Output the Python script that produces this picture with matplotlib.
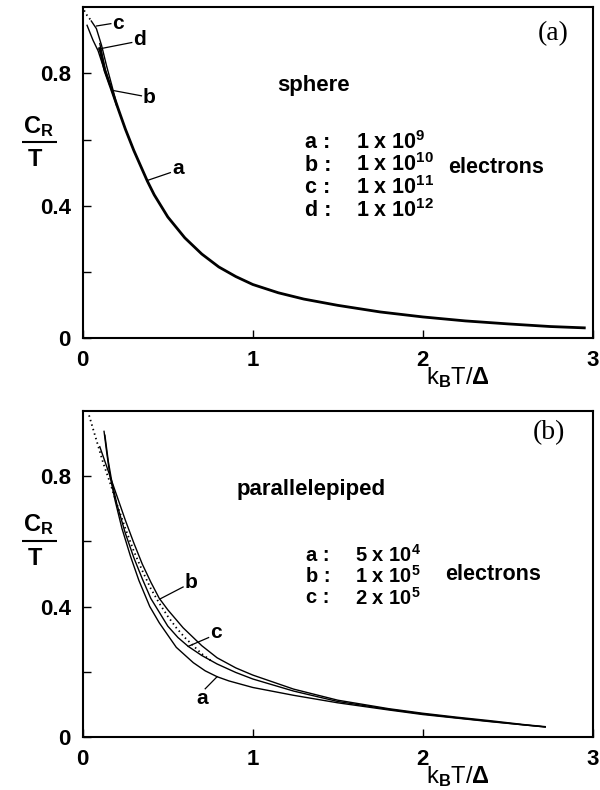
import matplotlib
matplotlib.use("Agg")
import matplotlib.pyplot as plt

plt.rcParams['font.family'] = ['Liberation Sans', 'DejaVu Sans']
plt.rcParams['font.weight'] = 'bold'
plt.rcParams['mathtext.fontset'] = 'custom'
plt.rcParams['mathtext.rm'] = 'Liberation Sans:bold'
plt.rcParams['mathtext.it'] = 'Liberation Sans:bold'
plt.rcParams['mathtext.bf'] = 'Liberation Sans:bold'
plt.rcParams['mathtext.sf'] = 'Liberation Sans:bold'

# ---------------- data: panel (a) sphere ----------------
sph_a_x = [0.10, 0.13, 0.169, 0.21, 0.25, 0.30, 0.38, 0.42, 0.50, 0.60, 0.70, 0.80, 0.90,
           1.00, 1.15, 1.30, 1.50, 1.75, 2.00, 2.25, 2.50, 2.75, 2.95]
sph_a_y = [0.875, 0.808, 0.751, 0.69, 0.632, 0.567, 0.474, 0.433, 0.366, 0.303, 0.254, 0.215,
           0.186, 0.162, 0.137, 0.118, 0.099, 0.079, 0.064, 0.052, 0.043, 0.035, 0.031]
sph_b_x = [0.10, 0.13, 0.169, 0.20]
sph_b_y = [0.89, 0.815, 0.751, 0.70]
sph_c_x = [0.05, 0.08, 0.11, 0.14, 0.17, 0.20]
sph_c_y = [0.958, 0.935, 0.885, 0.822, 0.765, 0.705]
sph_d_x = [0.025, 0.06, 0.09, 0.13, 0.16]
sph_d_y = [0.945, 0.90, 0.868, 0.805, 0.762]
sph_bulk_x = [0.008, 0.025, 0.045]
sph_bulk_y = [0.99, 0.975, 0.962]

sph_letters = ["a :", "b :", "c :", "d :"]
sph_values = ["1 x 10$^{9}$", "1 x 10$^{10}$", "1 x 10$^{11}$", "1 x 10$^{12}$"]

# ---------------- data: panel (b) parallelepiped ----------------
par_a_x = [0.125, 0.14, 0.16, 0.19, 0.23, 0.28, 0.33, 0.37, 0.394, 0.45, 0.55, 0.65, 0.72,
           0.79, 0.86, 1.0, 1.24, 1.5, 1.8, 2.0, 2.2, 2.4, 2.6, 2.72]
par_a_y = [0.937, 0.875, 0.80, 0.725, 0.64, 0.555, 0.48, 0.43, 0.40, 0.35, 0.275, 0.228, 0.203,
           0.185, 0.172, 0.152, 0.128, 0.105, 0.083, 0.069, 0.058, 0.047, 0.037, 0.031]
par_b_x = [0.10, 0.13, 0.16, 0.20, 0.25, 0.30, 0.35, 0.40, 0.45, 0.50, 0.59, 0.70, 0.79, 0.90,
           1.0, 1.24, 1.5, 1.8, 2.0, 2.2, 2.4, 2.6, 2.72]
par_b_y = [0.89, 0.845, 0.80, 0.74, 0.665, 0.595, 0.53, 0.475, 0.425, 0.39, 0.335, 0.28, 0.243,
           0.212, 0.19, 0.147, 0.113, 0.087, 0.073, 0.061, 0.050, 0.038, 0.032]
par_c_x = [0.13, 0.15, 0.17, 0.20, 0.25, 0.30, 0.35, 0.40, 0.50, 0.56, 0.62, 0.70, 0.79, 0.90,
           1.0, 1.24, 1.5, 1.8, 2.0, 2.2, 2.4, 2.6, 2.72]
par_c_y = [0.925, 0.845, 0.785, 0.715, 0.625, 0.55, 0.485, 0.425, 0.34, 0.305, 0.278, 0.25,
           0.224, 0.198, 0.178, 0.141, 0.109, 0.085, 0.071, 0.059, 0.048, 0.037, 0.031]
par_bulk_x = [0.037, 0.06, 0.09, 0.12, 0.16, 0.20, 0.25, 0.30, 0.35, 0.40, 0.45, 0.50, 0.55,
              0.60, 0.65, 0.70, 0.76]
par_bulk_y = [0.986, 0.945, 0.893, 0.84, 0.78, 0.715, 0.64, 0.57, 0.51, 0.455, 0.41, 0.37,
              0.335, 0.305, 0.28, 0.255, 0.232]

par_letters = ["a :", "b :", "c :"]
par_values = ["5 x 10$^{4}$", "1 x 10$^{5}$", "2 x 10$^{5}$"]

xticks = [0, 1, 2, 3]
xticklabels = ["0", "1", "2", "3"]
yticks = [0, 0.2, 0.4, 0.6, 0.8]
yticklabels = ["0", "", "0.4", "", "0.8"]

fig = plt.figure(figsize=(6.0, 7.9), dpi=100)
ax1 = fig.add_axes([0.138, 0.572, 0.850, 0.419])
ax2 = fig.add_axes([0.138, 0.067, 0.850, 0.413])

thin = 1.0
thick = 2.0
dot = dict(linestyle=(0, (0.8, 1.8)), color='black', lw=1.3)
TXT = 15.5
LBL = 15


def style(ax):
    ax.set_xlim(0, 3)
    ax.set_ylim(0, 1.0)
    ax.set_xticks(xticks)
    ax.set_xticklabels(xticklabels)
    ax.set_yticks(yticks)
    ax.set_yticklabels(yticklabels)
    ax.tick_params(direction='in', length=6, width=1.0, labelsize=16, pad=8.5)
    for s in ax.spines.values():
        s.set_linewidth(1.5)
    for lab in ax.get_xticklabels() + ax.get_yticklabels():
        lab.set_fontweight('bold')
    ax.set_xlabel(r'k$_{\mathrm{B}}$T/$\Delta$', fontsize=17)
    ax.xaxis.set_label_coords(0.735, -0.12)
    ax.xaxis.label.set_verticalalignment('center')


# panel (a)
style(ax1)
ax1.plot(sph_a_x, sph_a_y, color='black', lw=thick)
ax1.plot(sph_b_x, sph_b_y, color='black', lw=thin)
ax1.plot(sph_c_x, sph_c_y, color='black', lw=thin)
ax1.plot(sph_d_x, sph_d_y, color='black', lw=thin)
ax1.plot(sph_bulk_x, sph_bulk_y, **dot)

ax1.plot([0.081, 0.165], [0.943, 0.95], color='black', lw=0.9)
ax1.text(0.171, 0.95, 'c', fontsize=LBL, va='center', ha='left')
ax1.plot([0.09, 0.288], [0.873, 0.893], color='black', lw=0.9)
ax1.text(0.294, 0.901, 'd', fontsize=LBL, va='center', ha='left')
ax1.plot([0.169, 0.345], [0.749, 0.732], color='black', lw=0.9)
ax1.text(0.353, 0.727, 'b', fontsize=LBL, va='center', ha='left')
ax1.plot([0.378, 0.515], [0.476, 0.500], color='black', lw=0.9)
ax1.text(0.524, 0.512, 'a', fontsize=LBL, va='center', ha='left')

ax1.text(1.141, 0.762, 'sphere', fontsize=16, ha='left', va='center')
sph_rows = [0.592, 0.523, 0.454, 0.385]
for yv, l, v in zip(sph_rows, sph_letters, sph_values):
    ax1.text(1.306, yv, l, fontsize=TXT, ha='left', va='center')
    ax1.text(1.606, yv, v, fontsize=TXT, ha='left', va='center')
ax1.text(2.147, 0.515, 'electrons', fontsize=TXT, ha='left', va='center')
ax1.text(2.765, 0.919, '(a)', fontsize=20, family='Liberation Serif', fontweight='normal',
         ha='center', va='center')

# panel (b)
style(ax2)
ax2.plot(par_a_x, par_a_y, color='black', lw=thin)
ax2.plot(par_b_x, par_b_y, color='black', lw=thin)
ax2.plot(par_c_x, par_c_y, color='black', lw=thin)
ax2.plot(par_bulk_x, par_bulk_y, **dot)

ax2.plot([0.453, 0.59], [0.423, 0.46], color='black', lw=0.9)
ax2.text(0.60, 0.473, 'b', fontsize=LBL, va='center', ha='left')
ax2.plot([0.62, 0.74], [0.278, 0.305], color='black', lw=0.9)
ax2.text(0.747, 0.319, 'c', fontsize=LBL, va='center', ha='left')
ax2.plot([0.72, 0.79], [0.148, 0.185], color='black', lw=0.9)
ax2.text(0.67, 0.119, 'a', fontsize=LBL, va='center', ha='left')

ax2.text(0.906, 0.76, 'parallelepiped', fontsize=16, ha='left', va='center')
par_rows = [0.558, 0.493, 0.428]
for yv, l, v in zip(par_rows, par_letters, par_values):
    ax2.text(1.312, yv, l, fontsize=14.5, ha='left', va='center')
    ax2.text(1.60, yv, v, fontsize=14.5, ha='left', va='center')
ax2.text(2.13, 0.498, 'electrons', fontsize=TXT, ha='left', va='center')
ax2.text(2.74, 0.932, '(b)', fontsize=20, family='Liberation Serif', fontweight='normal',
         ha='center', va='center')

# y labels C_R / T
for ax, cy, ly, ty in [(ax1, 0.62, 0.591, 0.575), (ax2, 0.631, 0.60, 0.584)]:
    ax.text(-0.353, cy, r'C$_{\mathrm{R}}$', fontsize=17, ha='left', va='baseline',
            clip_on=False)
    ax.plot([-0.359, -0.153], [ly, ly], color='black', lw=1.5, clip_on=False,
            solid_capstyle='butt')
    ax.text(-0.324, ty, 'T', fontsize=17, ha='left', va='top', clip_on=False)

fig.savefig('out.png', dpi=100)
